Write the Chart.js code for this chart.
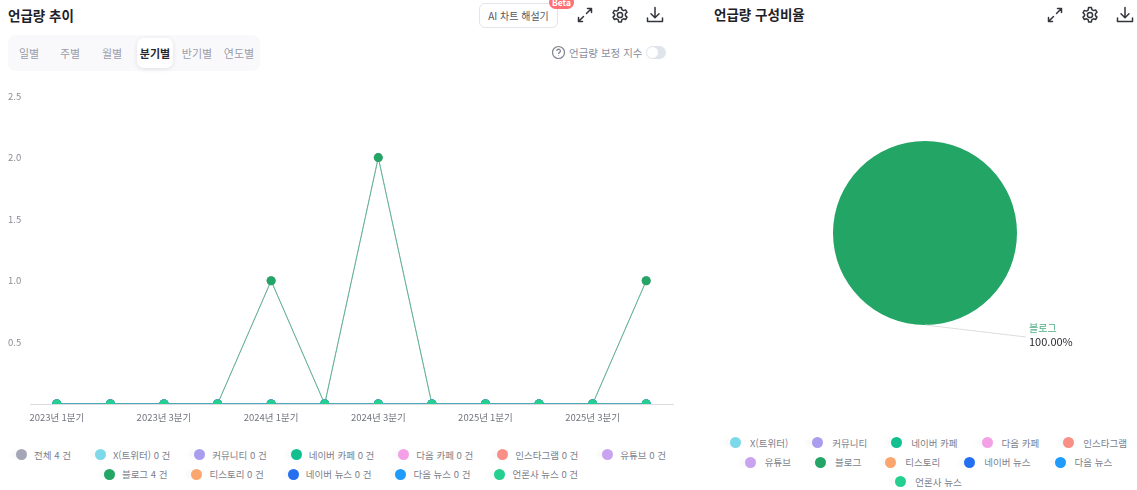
<!DOCTYPE html>
<html lang="ko">
<head>
<meta charset="utf-8">
<title>언급량</title>
<script src="https://cdn.jsdelivr.net/npm/chart.js@4"></script>
<style>
  html, body { margin: 0; background: #fff; }
  body { width: 1137px; height: 490px; position: relative; overflow: hidden; font-family: "Noto Sans CJK KR", "Noto Sans", sans-serif; filter: blur(0.3px); }
  .abs { position: absolute; }
  .title { font-size: 13.5px; font-weight: 700; color: #1f2128; line-height: 20px; white-space: nowrap; }
  .tabs { left: 8px; top: 35px; width: 252px; height: 36px; background: #f9f9fb; border-radius: 8px; }
  .tab { position: absolute; top: 8px; width: 36px; margin-left: -18px; text-align: center; font-size: 11px; line-height: 20px; color: #9a9dab; }
  .tab.on { top: 3px; height: 30px; line-height: 30px; color: #26272e; font-weight: 700; background: #fff; border-radius: 7px; box-shadow: 0 1px 5px rgba(0,0,0,.10); }
  .aibtn { left: 479px; top: 3px; width: 77px; height: 23px; border: 1px solid #e4e5ea; border-radius: 6px; font-size: 10px; line-height: 23px; text-align: center; color: #555862; }
  .beta { left: 549px; top: -4px; width: 25px; height: 13px; background: #ff6f73; border-radius: 7px; color: #fff; font-size: 8.5px; font-weight: 700; line-height: 12px; text-align: center; }
  .ico { width: 20px; height: 20px; fill: none; stroke: #33353c; stroke-width: 1.5; stroke-linecap: round; stroke-linejoin: round; }
  .adj { left: 569px; top: 44px; font-size: 10.5px; line-height: 17px; color: #8b8e9b; white-space: nowrap; }
  .toggle { left: 646px; top: 46px; width: 20px; height: 13px; border-radius: 7px; background: #dfe3ec; }
  .toggle i { position: absolute; left: 1px; top: 1px; width: 11px; height: 11px; border-radius: 50%; background: #fff; }
  .legend { display: flex; flex-wrap: wrap; justify-content: center; column-gap: 24px; }
  .legend span { display: flex; align-items: center; height: 19.5px; font-size: 9.5px; color: #7b7e8a; white-space: nowrap; }
  .legend i { width: 11px; height: 11px; border-radius: 50%; margin-right: 7px; box-shadow: -7px 0 5px -3px rgba(120,140,150,.14); }
  #pieLegend i { margin-right: 9px; }
</style>
</head>
<body>
<div class="abs title" style="left:8px;top:5px">언급량 추이</div>
<div class="abs tabs" id="tabs"></div>
<div class="abs aibtn">AI 차트 해설기</div>
<div class="abs beta">Beta</div>
<div class="abs adj">언급량 보정 지수</div>
<svg class="abs" style="left:551px;top:45px;width:15px;height:15px;fill:none;stroke:#80838f;stroke-width:1.2" viewBox="0 0 15 15"><circle cx="7.500" cy="7.500" r="6"/><path d="M5.800 6a1.800 1.800 0 1 1 2.600 1.600c-.6.3-.9.7-.9 1.300M7.500 10.600v.5"/></svg>
<div class="abs toggle"><i></i></div>
<div class="abs title" style="left:714px;top:4px">언급량 구성비율</div>

<div class="abs" style="left:0;top:80px;width:680px;height:350px"><canvas id="lineChart"></canvas></div>
<div class="abs" style="left:720px;top:41px;width:410px;height:384px"><canvas id="pieChart"></canvas></div>
<div class="abs legend" id="lineLegend" style="left:6px;top:445px;width:670px"></div>
<div class="abs legend" id="pieLegend" style="left:720px;top:433px;width:417px"></div>

<script>
var periodTabs = ["일별", "주별", "월별", "분기별", "반기별", "연도별"];
var tabCenters = [21, 62, 104, 147, 189, 231];
var quarters = ["2023년 1분기", "2023년 2분기", "2023년 3분기", "2023년 4분기", "2024년 1분기", "2024년 2분기",
  "2024년 3분기", "2024년 4분기", "2025년 1분기", "2025년 2분기", "2025년 3분기", "2025년 4분기"];
var yTicks = [0.5, 1.0, 1.5, 2.0, 2.5];

var seriesNames = ["전체", "X(트위터)", "커뮤니티", "네이버 카페", "다음 카페", "인스타그램", "유튜브", "블로그", "티스토리", "네이버 뉴스", "다음 뉴스", "언론사 뉴스"];
var seriesColors = ["#a5a5b8", "#7dd8ea", "#a99df0", "#12bf8f", "#f3a0e6", "#f98f86", "#c9a3f0", "#22a565", "#fba66e", "#2470f0", "#1e9bfb", "#25cf90"];
var seriesTotals = [4, 0, 0, 0, 0, 0, 0, 4, 0, 0, 0, 0];

var totalValues = [0, 0, 0, 0, 1, 0, 2, 0, 0, 0, 0, 1];
var blogValues = [0, 0, 0, 0, 1, 0, 2, 0, 0, 0, 0, 1];
var zeroValues = [0, 0, 0, 0, 0, 0, 0, 0, 0, 0, 0, 0];
var shareValues = [0, 0, 0, 0, 0, 0, 100, 0, 0, 0, 0];

function valuesFor(name) {
  if (name == "전체") return totalValues;
  if (name == "블로그") return blogValues;
  return zeroValues;
}

// 상단 탭, 아이콘
periodTabs.forEach(function (t, i) {
  var d = document.createElement("div");
  d.className = "tab" + (t == "분기별" ? " on" : "");
  d.style.left = tabCenters[i] + "px";
  d.textContent = t;
  document.getElementById("tabs").appendChild(d);
});

var icons = {
  expand: '<path d="M11.500 8.500 16 4M12.500 3.500h4v4M8.500 11.500 4 16M3.500 12.500v4h4"/>',
  gear: '<circle cx="10" cy="10" r="2.600"/><path d="M8.600 2.500h2.800l.5 2.200 1.600.9 2.100-.7 1.400 2.400-1.600 1.500v1.800l1.600 1.500-1.400 2.400-2.100-.7-1.600.9-.5 2.200H8.600l-.5-2.200-1.600-.9-2.100.7-1.400-2.400 1.600-1.500V9.300L3 7.800l1.400-2.400 2.100.7 1.600-.9z"/>',
  download: '<path d="M10 2.500v10M6 8.700l4 4 4-4M2.500 13v3.500h15V13"/>'
};
[[575, "expand"], [610, "gear"], [645, "download"], [1045, "expand"], [1080, "gear"], [1115, "download"]].forEach(function (p) {
  var wrap = document.createElement("div");
  wrap.innerHTML = '<svg class="abs ico" viewBox="0 0 20 20" style="left:' + p[0] + 'px;top:5px">' + icons[p[1]] + '</svg>';
  document.body.appendChild(wrap.firstChild);
});

// 범례
function addLegend(id, from, withCount) {
  var box = document.getElementById(id);
  seriesNames.slice(from).forEach(function (name, i) {
    var s = document.createElement("span");
    s.innerHTML = '<i style="background:' + seriesColors[i + from] + '"></i>' + name + (withCount ? " " + seriesTotals[i + from] + " 건" : "");
    box.appendChild(s);
  });
}
addLegend("lineLegend", 0, true);
addLegend("pieLegend", 1, false);

Chart.defaults.font.family = '"Noto Sans CJK KR", "Noto Sans", sans-serif';
Chart.defaults.animation = false;

new Chart(document.getElementById("lineChart"), {
  type: "line",
  data: {
    labels: quarters,
    datasets: seriesNames.map(function (name, i) {
      return {
        label: name,
        data: valuesFor(name),
        borderColor: name == "블로그" ? "#35ad7c" : seriesColors[i],
        backgroundColor: seriesColors[i],
        borderWidth: 0.7,
        pointRadius: 4.5,
        pointBorderWidth: 0,
        pointHoverRadius: 4.5,
        tension: 0,
        order: -i // 뒤 시리즈가 위로
      };
    })
  },
  options: {
    responsive: true,
    maintainAspectRatio: false,
    layout: { padding: { left: 8, right: 7, top: 16 } },
    plugins: { legend: { display: false }, tooltip: { enabled: false } },
    scales: {
      x: {
        offset: true,
        grid: { display: false },
        border: { color: "#d9dde0" },
        afterFit: function (s) { s.height = 26; },
        ticks: {
          autoSkip: false,
          maxRotation: 0,
          padding: 0,
          color: "#73767f",
          font: { size: 9.5 },
          callback: function (v, i) { return i % 2 == 0 ? quarters[i] : ""; }
        }
      },
      y: {
        min: 0,
        max: 2.5,
        grid: { display: false, drawTicks: false },
        border: { display: false },
        afterFit: function (s) { s.width = 22; },
        afterBuildTicks: function (s) { s.ticks = yTicks.map(function (v) { return { value: v }; }); },
        ticks: {
          crossAlign: "far",
          padding: 0,
          color: "#8a8d96",
          font: { size: 9.5 },
          callback: function (v) { return v.toFixed(1); }
        }
      }
    }
  }
});

// 파이 라벨 + 지시선
var pieLabelPlugin = {
  id: "pieLabel",
  afterDatasetsDraw: function (chart) {
    var ctx = chart.ctx;
    chart.getDatasetMeta(0).data.forEach(function (arc, i) {
      var value = shareValues[i];
      if (!value) return;
      var mid = (arc.startAngle + arc.endAngle) / 2;
      var sx = arc.x + Math.cos(mid) * arc.outerRadius;
      var sy = arc.y + Math.sin(mid) * arc.outerRadius;
      var ex = sx + 101, ey = sy + 12;
      ctx.save();
      ctx.strokeStyle = "#dcdde0";
      ctx.lineWidth = 1;
      ctx.beginPath();
      ctx.moveTo(sx, sy);
      ctx.lineTo(ex, ey);
      ctx.stroke();
      ctx.textBaseline = "middle";
      ctx.font = '10px "Noto Sans CJK KR", sans-serif';
      ctx.fillStyle = "#4fae84";
      ctx.fillText(seriesNames[i + 1], ex + 3, ey - 9);
      ctx.font = '11px "Noto Sans CJK KR", sans-serif';
      ctx.fillStyle = "#2b2d33";
      ctx.fillText(value.toFixed(2) + "%", ex + 3, ey + 5);
      ctx.restore();
    });
  }
};

new Chart(document.getElementById("pieChart"), {
  type: "pie",
  data: {
    labels: seriesNames.slice(1),
    datasets: [{
      data: shareValues,
      backgroundColor: seriesColors.slice(1),
      borderWidth: 0
    }]
  },
  options: {
    responsive: true,
    maintainAspectRatio: false,
    radius: 92,
    plugins: { legend: { display: false }, tooltip: { enabled: false } }
  },
  plugins: [pieLabelPlugin]
});
</script>
</body>
</html>
